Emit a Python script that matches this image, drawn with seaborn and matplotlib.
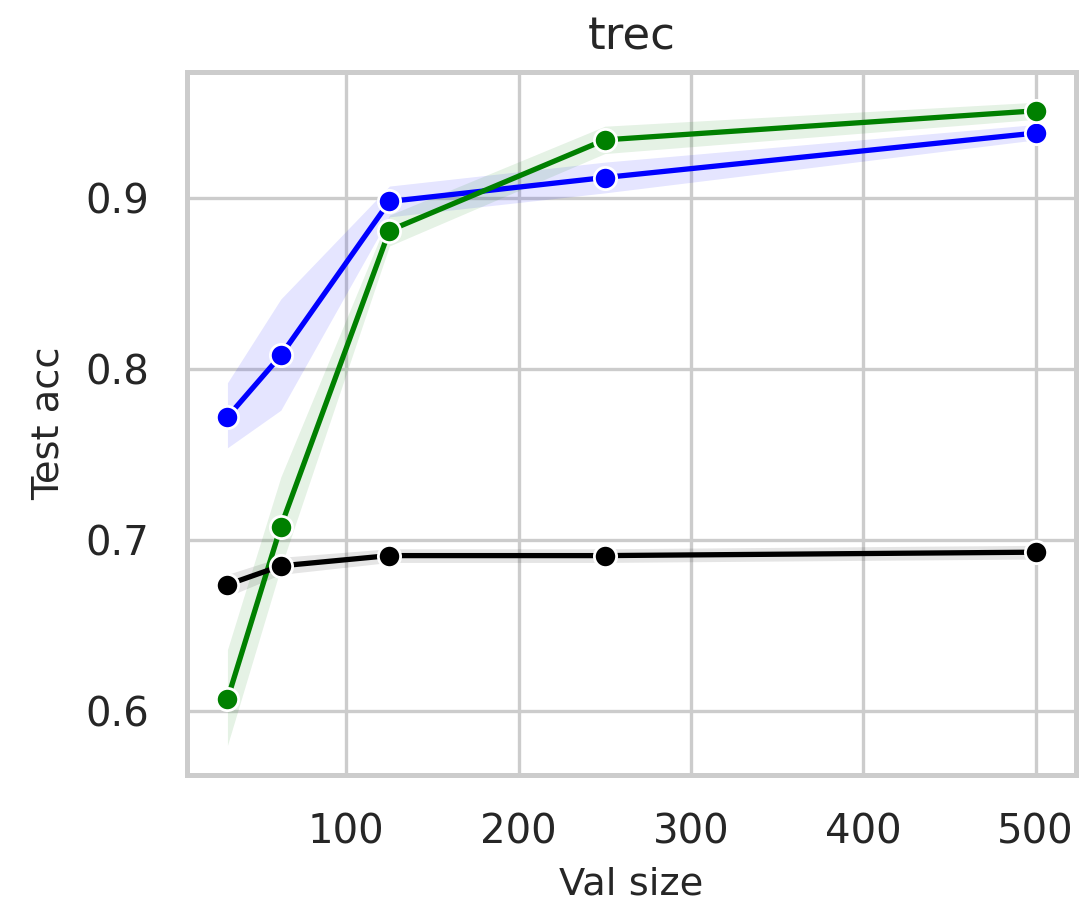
import pandas as pd
import seaborn as sns
import matplotlib.pyplot as plt

# Validation sizes on the x axis
val_sizes = [31, 62, 125, 250, 500]

# Mean test accuracy per method
acc_blue = [0.772, 0.808, 0.898, 0.912, 0.938]
acc_green = [0.607, 0.708, 0.881, 0.934, 0.951]
acc_black = [0.674, 0.685, 0.691, 0.691, 0.693]

# Band bounds (lower / upper) per method
lo_blue = [0.754, 0.776, 0.889, 0.903, 0.934]
hi_blue = [0.792, 0.841, 0.907, 0.921, 0.943]
lo_green = [0.580, 0.684, 0.872, 0.926, 0.946]
hi_green = [0.636, 0.737, 0.890, 0.942, 0.956]
lo_black = [0.667, 0.680, 0.687, 0.687, 0.689]
hi_black = [0.680, 0.690, 0.695, 0.695, 0.697]

series = {
    'blue': (acc_blue, lo_blue, hi_blue),
    'green': (acc_green, lo_green, hi_green),
    'black': (acc_black, lo_black, hi_black),
}

sns.set_theme(style="whitegrid")
plt.rcParams['font.family'] = ['DejaVu Sans']
plt.rcParams['axes.edgecolor'] = '#cccccc'
plt.rcParams['axes.linewidth'] = 3.6
plt.rcParams['grid.linewidth'] = 2.4
plt.rcParams['grid.color'] = '#cccccc'

fig, ax = plt.subplots(figsize=(10.81, 9.11), dpi=100)
fig.subplots_adjust(left=0.173, right=0.9954, top=0.921, bottom=0.149)

for color, (acc, lo, hi) in series.items():
    df = pd.DataFrame({'Val size': val_sizes, 'Test acc': acc})
    ax.fill_between(val_sizes, lo, hi, color=color, alpha=0.1, linewidth=0)
    sns.lineplot(data=df, x='Val size', y='Test acc', color=color, marker='o',
                 linewidth=3.8, markersize=16, markeredgecolor='white',
                 markeredgewidth=2, ax=ax)

ax.set_xlim(7.55, 523.45)
ax.set_ylim(0.5626, 0.9737)
ax.set_xticks([100, 200, 300, 400, 500])
ax.set_yticks([0.6, 0.7, 0.8, 0.9])
ax.tick_params(axis='both', labelsize=29, pad=27, colors='#262626', length=0)
ax.set_xlabel('Val size', fontsize=27.6, labelpad=10, color='#262626')
ax.set_ylabel('Test acc', fontsize=27.6, labelpad=14, color='#262626')
ax.set_title('trec', fontsize=32.4, pad=16, color='#262626')

plt.savefig('out.png', dpi=100)
